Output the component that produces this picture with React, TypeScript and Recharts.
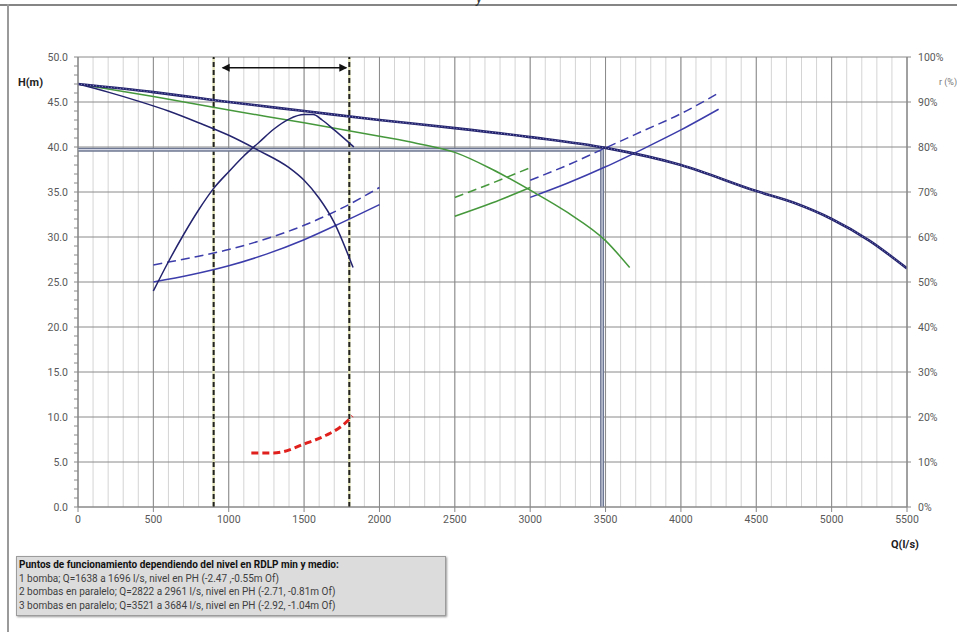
import React from "react";
import { LineChart, Line, XAxis, YAxis, CartesianGrid, ReferenceLine } from "recharts";

// Curva H-Q, 3 bombas en paralelo
const qTres = [0, 500, 1000, 1500, 2000, 2500, 3000, 3500, 4000, 4500, 4750, 5000, 5250, 5500];
const hTres = [47, 46.1, 45, 44, 43, 42.1, 41.1, 39.9, 38, 35.1, 33.8, 32, 29.6, 26.5];

// Curva H-Q, 2 bombas en paralelo
const qDos = [0, 500, 1000, 1500, 2000, 2250, 2500, 2750, 3000, 3250, 3500, 3660];
const hDos = [47, 45.6, 44.1, 42.7, 41.2, 40.4, 39.4, 37.5, 35.2, 32.7, 29.6, 26.6];

// Curva H-Q, 1 bomba
const qUna = [0, 200, 400, 600, 800, 1000, 1200, 1400, 1500, 1600, 1700, 1825];
const hUna = [47, 46.1, 45.1, 44.0, 42.7, 41.3, 39.6, 37.7, 36.3, 34.3, 31.6, 26.6];

// Rendimiento (%), 1 bomba
const qRend = [500, 600, 700, 800, 900, 1000, 1100, 1200, 1300, 1400, 1500, 1560, 1620, 1700, 1830];
const rRend = [48, 54.5, 60.5, 66, 70.8, 74.5, 78, 81, 84, 86.2, 87.2, 87.2, 86, 83.8, 80];

// Curvas del sistema (nivel min / medio)
const qSis1 = [500, 750, 1000, 1250, 1500, 1750, 2000];
const hSis1Min = [26.9, 27.7, 28.6, 29.8, 31.3, 33.2, 35.5];
const hSis1Med = [25, 25.8, 26.8, 28.1, 29.7, 31.6, 33.6];
const qSis2 = [2500, 2750, 3000];
const hSis2Min = [34.4, 36.0, 37.7];
const hSis2Med = [32.3, 33.8, 35.5];
const qSis3 = [3000, 3250, 3500, 3750, 4000, 4250];
const hSis3Min = [36.3, 38.0, 39.9, 41.8, 43.7, 46.0];
const hSis3Med = [34.4, 36.0, 37.8, 39.8, 41.9, 44.2];

// NPSH (rojo)
const qRojo = [1150, 1300, 1350, 1500, 1650, 1750, 1820];
const hRojo = [6, 6, 6.1, 7, 8, 9, 10.1];

// Punto de funcionamiento
const qOp = [0, 3477, 3477];
const hOp = [39.7, 39.7, 0];

// Limites de rango y flecha
const limitesQ = [900, 1800];
const qFlecha = [960, 1780];
const hFlecha = [48.8, 48.8];

const ticksQ = [0, 500, 1000, 1500, 2000, 2500, 3000, 3500, 4000, 4500, 5000, 5500];
const ticksR = [0, 10, 20, 30, 40, 50, 60, 70, 80, 90, 100];
const ticksHMayor = [0, 5, 10, 15, 20, 25, 30, 35, 40, 45, 50];
const ticksH = Array.from({ length: 51 }, (_, i) => i);
const gridQMenor = Array.from({ length: 56 }, (_, i) => i * 100);

const serie = (q: number[], v: number[]) => q.map((x, i) => ({ q: x, v: v[i] }));

const tickStyle = { fill: "#595959", fontSize: 10.5, fontFamily: "Roboto" };
const navy = "#23236e";
const azul = "#3c3cab";
const verde = "#46983c";

const ArrowHead = (props: any) => {
  const { cx, cy, index } = props;
  const d = index === 0 ? -1 : 1;
  return (
    <polygon
      key={`flecha-${index}`}
      points={`${cx + d},${cy} ${cx - d * 7},${cy - 4} ${cx - d * 7},${cy + 4}`}
      fill="#111"
    />
  );
};

export default function App() {
  return (
    <div
      style={{
        position: "absolute",
        left: 0,
        top: 0,
        width: 957,
        height: 632,
        overflow: "hidden",
        background: "#fff",
        fontFamily: "Roboto",
      }}
    >
      {/* marco */}
      <div style={{ position: "absolute", left: 0, top: 4, width: 957, height: 2, background: "#858585" }} />
      <div style={{ position: "absolute", left: 7, top: 4, width: 2, height: 628, background: "#9a9a9a" }} />
      <div style={{ position: "absolute", left: 476, top: -10, fontSize: 14, fontStyle: "italic", color: "#333" }}>y</div>

      <div style={{ position: "absolute", left: 0, top: 0 }}>
        <LineChart width={957} height={537} margin={{ top: 57, right: 0, bottom: 0, left: 0 }}>
          <CartesianGrid stroke="#d4d4d4" horizontal={false} verticalValues={gridQMenor} />
          <CartesianGrid stroke="#8a8a8a" horizontalValues={ticksHMayor} verticalValues={ticksQ} />
          <XAxis
            type="number"
            dataKey="q"
            domain={[0, 5500]}
            ticks={ticksQ}
            interval={0}
            tick={tickStyle}
            tickSize={5}
            tickMargin={4}
            stroke="#888"
            height={30}
            allowDataOverflow
          />
          <YAxis
            type="number"
            domain={[0, 50]}
            ticks={ticksH}
            interval={0}
            tickFormatter={(v: number) => (v % 5 === 0 ? v.toFixed(1) : "")}
            tick={tickStyle}
            tickSize={4}
            tickMargin={6}
            stroke="#888"
            width={78}
            allowDataOverflow
          />
          <YAxis
            yAxisId="r"
            orientation="right"
            type="number"
            domain={[0, 100]}
            ticks={ticksR}
            interval={0}
            tickFormatter={(v: number) => `${v}%`}
            tick={{ ...tickStyle, textAnchor: "start" }}
            tickSize={4}
            tickMargin={7}
            stroke="#888"
            width={50}
          />

          {limitesQ.map((x) => (
            <ReferenceLine key={`y${x}`} x={x} stroke="#e2e2b8" strokeWidth={2.5} />
          ))}
          {limitesQ.map((x) => (
            <ReferenceLine key={`n${x}`} x={x} stroke="#222" strokeWidth={2} strokeDasharray="5 3" />
          ))}

          <Line data={serie(qOp, hOp)} dataKey="v" type="linear" stroke="#6f7892" strokeWidth={4} dot={false} isAnimationActive={false} />
          <Line data={serie(qOp, hOp)} dataKey="v" type="linear" stroke="#d3d7e6" strokeWidth={1.2} dot={false} isAnimationActive={false} />

          <Line data={serie(qSis1, hSis1Min)} dataKey="v" type="monotone" stroke={azul} strokeWidth={1.5} strokeDasharray="9 5" dot={false} isAnimationActive={false} />
          <Line data={serie(qSis1, hSis1Med)} dataKey="v" type="monotone" stroke={azul} strokeWidth={1.5} dot={false} isAnimationActive={false} />
          <Line data={serie(qSis2, hSis2Min)} dataKey="v" type="monotone" stroke={verde} strokeWidth={1.5} strokeDasharray="9 5" dot={false} isAnimationActive={false} />
          <Line data={serie(qSis2, hSis2Med)} dataKey="v" type="monotone" stroke={verde} strokeWidth={1.5} dot={false} isAnimationActive={false} />
          <Line data={serie(qSis3, hSis3Min)} dataKey="v" type="monotone" stroke={azul} strokeWidth={1.5} strokeDasharray="9 5" dot={false} isAnimationActive={false} />
          <Line data={serie(qSis3, hSis3Med)} dataKey="v" type="monotone" stroke={azul} strokeWidth={1.5} dot={false} isAnimationActive={false} />

          <Line data={serie(qDos, hDos)} dataKey="v" type="monotone" stroke={verde} strokeWidth={1.5} dot={false} isAnimationActive={false} />
          <Line data={serie(qUna, hUna)} dataKey="v" type="monotone" stroke={navy} strokeWidth={1.5} dot={false} isAnimationActive={false} />
          <Line yAxisId="r" data={serie(qRend, rRend)} dataKey="v" type="monotone" stroke={navy} strokeWidth={1.5} dot={false} isAnimationActive={false} />
          <Line data={serie(qTres, hTres)} dataKey="v" type="monotone" stroke={navy} strokeWidth={2.6} dot={false} isAnimationActive={false} />
          <Line data={serie(qTres, hTres)} dataKey="v" type="monotone" stroke="#8a8ac4" strokeWidth={1} strokeDasharray="1 2" dot={false} isAnimationActive={false} />

          <Line data={serie(qRojo, hRojo)} dataKey="v" type="monotone" stroke="#e0201c" strokeWidth={3} strokeDasharray="7 4" dot={false} isAnimationActive={false} />
          <Line data={serie(qFlecha, hFlecha)} dataKey="v" type="linear" stroke="#111" strokeWidth={1.5} dot={ArrowHead} isAnimationActive={false} />
        </LineChart>
      </div>

      <div style={{ position: "absolute", left: 18, top: 76, fontSize: 11, fontWeight: 700, color: "#222" }}>H(m)</div>
      <div style={{ position: "absolute", left: 939, top: 77, fontSize: 9, color: "#777", whiteSpace: "nowrap" }}>r (%)</div>
      <div style={{ position: "absolute", left: 891, top: 538, fontSize: 11, fontWeight: 700, color: "#222" }}>Q(l/s)</div>

      <div
        style={{
          position: "absolute",
          left: 16,
          top: 556,
          width: 430,
          height: 60,
          background: "#dcdcdc",
          border: "1px solid #9c9c9c",
          boxShadow: "1px 1px 2px #999",
          fontSize: 10,
          lineHeight: "13.7px",
          color: "#404040",
          padding: "1px 0 0 2px",
          boxSizing: "border-box",
          whiteSpace: "nowrap",
        }}
      >
        <div style={{ fontWeight: 700, color: "#111" }}>Puntos de funcionamiento dependiendo del nivel en RDLP min y medio:</div>
        <div>1 bomba; Q=1638 a 1696 l/s, nivel en PH (-2.47 ,-0.55m Of)</div>
        <div>2 bombas en paralelo; Q=2822 a 2961 l/s, nivel en PH (-2.71, -0.81m Of)</div>
        <div>3 bombas en paralelo; Q=3521 a 3684 l/s, nivel en PH (-2.92, -1.04m Of)</div>
      </div>
    </div>
  );
}
